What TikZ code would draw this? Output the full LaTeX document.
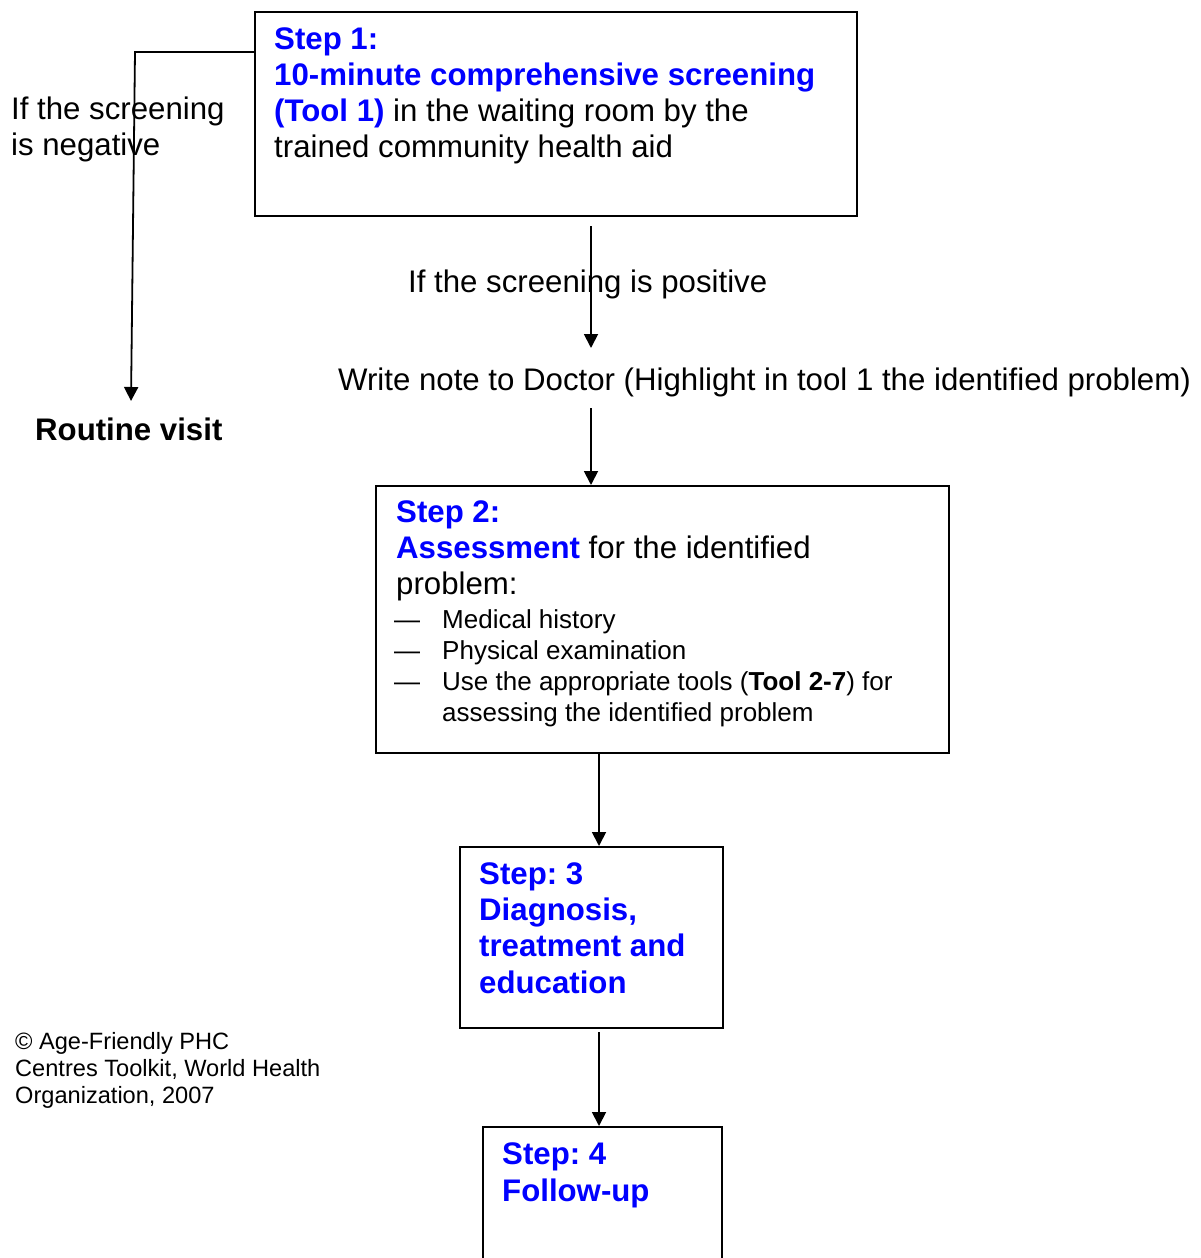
\documentclass[tikz,border=0pt]{standalone}
\usepackage{fontspec}
\setmainfont{Liberation Sans}
\usetikzlibrary{arrows.meta}
\frenchspacing
\definecolor{stepblue}{RGB}{0,0,255}
\newcommand\stepbl[1]{\textcolor{stepblue}{\textbf{#1}}}
\tikzset{
  box/.style={draw, line width=2pt, rectangle, anchor=north west, inner sep=0pt},
  txt/.style={anchor=base west, inner sep=0pt, align=left, font=\fontsize{31.2}{35.7}\selectfont},
  smalltxt/.style={anchor=base west, inner sep=0pt, align=left, font=\fontsize{26}{31}\selectfont},
  notetxt/.style={anchor=base west, inner sep=0pt, align=left, font=\fontsize{23.6}{27}\selectfont},
  arr/.style={line width=1.8pt, -{Triangle[length=14pt,width=14pt]}}
}
\begin{document}
\begin{tikzpicture}[x=1pt,y=-1pt]
\useasboundingbox (0,0) rectangle (1200,1258);
\clip (0,0) rectangle (1200,1258);

% boxes
\node[box, minimum width=602pt, minimum height=204pt] (box1) at (254,11) {};
\node[box, minimum width=573pt, minimum height=267pt] (box2) at (375,485) {};
\node[box, minimum width=263pt, minimum height=181pt] (box3) at (459,846) {};
\node[box, minimum width=239pt, minimum height=160pt] (box4) at (482,1126) {};

% texts (anchor = baseline of the last line)
\node[txt] (t1) at (274,157) {\stepbl{Step 1:}\\\stepbl{10-minute comprehensive screening}\\\stepbl{(Tool 1)} in the waiting room by the\\trained community health aid};
\node[txt] (neg) at (11,155) {If the screening\\is negative};
\node[txt, font=\fontsize{31.2}{35.7}\selectfont\bfseries] (routine) at (35,440) {Routine visit};
\node[txt] (pos) at (408,292) {If the screening is positive};
\node[txt] (write) at (338,390) {Write note to Doctor (Highlight in tool 1 the identified problem)};
\node[txt] (t2) at (396,594) {\stepbl{Step 2:}\\\stepbl{Assessment} for the identified\\problem:};
\node[smalltxt] (dashes) at (394,690) {—\\—\\—};
\node[smalltxt] (list) at (442,721) {Medical history\\Physical examination\\Use the appropriate tools (\textbf{Tool 2-7}) for\\assessing the identified problem};
\node[txt, font=\fontsize{31.2}{36.3}\selectfont] (t3) at (479,993) {\stepbl{Step: 3}\\\stepbl{Diagnosis,}\\\stepbl{treatment and}\\\stepbl{education}};
\node[txt, font=\fontsize{31.2}{37}\selectfont] (t4) at (502,1201) {\stepbl{Step: 4}\\\stepbl{Follow-up}};
\node[notetxt] (copy) at (15,1103) {© Age-Friendly PHC\\Centres Toolkit, World Health\\Organization, 2007};

% connector coordinates
\coordinate (negcorner) at (135,52);
\coordinate (negend) at (131,401);
\coordinate (posstart) at (591,226);
\coordinate (posend) at (591,348);
\coordinate (wrstart) at (591,408);
\coordinate (c23) at (599,752);
\coordinate (c34) at (599,1032);

% connectors
\draw[arr] (negcorner -| box1.west) -- (negcorner) -- (negend);
\draw[arr] (posstart) -- (posend);
\draw[arr] (wrstart) -- (wrstart |- box2.north);
\draw[arr] (c23 |- box2.south) -- (c23 |- box3.north);
\draw[arr] (c34) -- (c34 |- box4.north);
\end{tikzpicture}
\end{document}
